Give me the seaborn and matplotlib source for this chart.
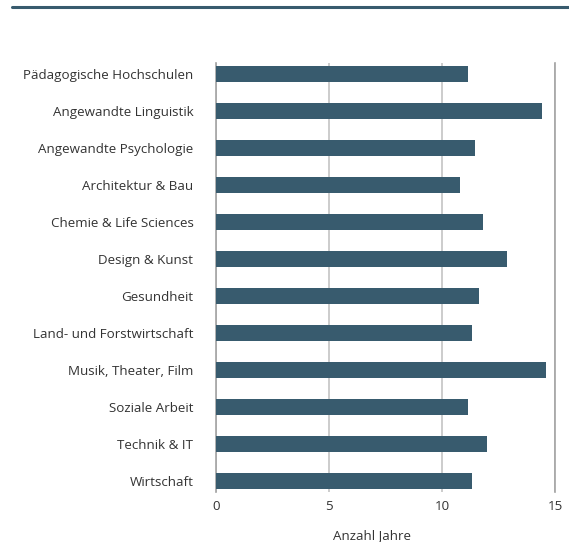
import matplotlib
matplotlib.use("Agg")
import matplotlib.pyplot as plt
from matplotlib.lines import Line2D
import seaborn as sns
import pandas as pd

# Average study duration by field
fields = [
    "Pädagogische Hochschulen",
    "Angewandte Linguistik",
    "Angewandte Psychologie",
    "Architektur & Bau",
    "Chemie & Life Sciences",
    "Design & Kunst",
    "Gesundheit",
    "Land- und Forstwirtschaft",
    "Musik, Theater, Film",
    "Soziale Arbeit",
    "Technik & IT",
    "Wirtschaft",
]
years = [11.15, 14.4, 11.45, 10.8, 11.8, 12.85, 11.65, 11.3, 14.6, 11.15, 12.0, 11.3]
x_ticks = [0, 5, 10, 15]
x_label = "Anzahl Jahre"

df = pd.DataFrame({"Fachbereich": fields, "Jahre": years})

sns.set_theme(style="white")
plt.rcParams["font.family"] = ["Open Sans", "DejaVu Sans"]

bar_color = "#385b6e"
text_color = "#333333"

fig = plt.figure(figsize=(5.69, 5.42), dpi=100)
ax = fig.add_axes([0.379, 0.092, 0.597, 0.792])

sns.barplot(data=df, x="Jahre", y="Fachbereich", orient="h",
            color=bar_color, saturation=1, width=0.43, linewidth=0,
            ax=ax, zorder=3)

ax.set_xlim(0, 15)
ax.set_ylim(len(fields) - 0.7, -0.3)
ax.set_xticks(x_ticks)
ax.set_xticklabels([str(t) for t in x_ticks])
ax.xaxis.grid(True, color="#c3c3c3", linewidth=1.2, zorder=0)
ax.yaxis.grid(False)

for side in ["top", "bottom"]:
    ax.spines[side].set_visible(False)
for side in ["left", "right"]:
    ax.spines[side].set_color("#a3a3a3")
    ax.spines[side].set_linewidth(1.2)

ax.tick_params(axis="both", length=0, colors=text_color, labelsize=9.6)
ax.tick_params(axis="y", pad=16)
ax.tick_params(axis="x", pad=6)
ax.set_ylabel("")
ax.set_xlabel(x_label, fontsize=9.6, color=text_color)
ax.xaxis.set_label_coords(0.46, -0.085)

# Rule across the top of the figure
fig.add_artist(Line2D([12 / 569, 1.0], [1 - 6.5 / 542, 1 - 6.5 / 542],
                      transform=fig.transFigure, color=bar_color, linewidth=2.2))

fig.savefig("out.png", dpi=100)
